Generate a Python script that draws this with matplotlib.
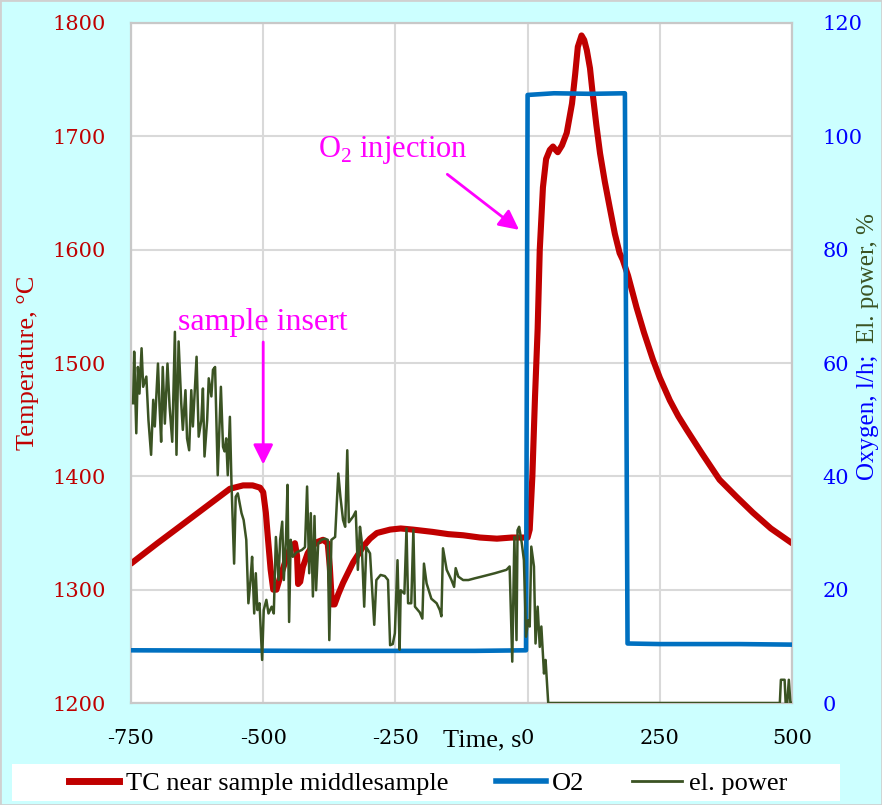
import numpy as np
import matplotlib
matplotlib.use('Agg')
import matplotlib.pyplot as plt
from matplotlib.patches import Rectangle
from matplotlib.lines import Line2D
import matplotlib.transforms as mtransforms

plt.rcParams['font.family'] = ['Liberation Serif', 'DejaVu Serif']
plt.rcParams['mathtext.fontset'] = 'custom'
plt.rcParams['mathtext.rm'] = 'Liberation Serif'
plt.rcParams['axes.unicode_minus'] = False

# Temperature, TC near sample middle (left axis)
temp_t = [-750, -700, -657, -600, -563, -538, -520, -506, -500, -495, -491, -486, -481,
          -475, -468, -458, -449, -440, -436, -434, -430, -425, -416, -408, -398, -387,
          -378, -374, -370, -365, -358, -349, -330, -311, -298, -285, -260, -240, -217,
          -180, -150, -122, -90, -58, -30, -9, 0, 4, 9, 14, 19, 23, 29, 35, 42, 48, 53,
          57, 65, 74, 84, 90, 95, 102, 107, 112, 118, 123, 130, 137, 146, 155, 165, 174,
          180, 190, 206, 220, 237, 250, 269, 285, 301, 330, 363, 395, 426, 460, 500]
temp_v = [1323, 1341, 1356, 1376, 1389, 1392, 1392, 1390, 1386, 1368, 1345, 1318, 1300,
          1300, 1311, 1325, 1337, 1341, 1330, 1305, 1307, 1320, 1332, 1338, 1342, 1344,
          1341, 1320, 1287, 1287, 1296, 1306, 1324, 1338, 1345, 1350, 1353, 1354, 1353,
          1351, 1349, 1348, 1346, 1345, 1346, 1346, 1346, 1353, 1400, 1470, 1530, 1600,
          1655, 1680, 1688, 1691, 1688, 1686, 1692, 1703, 1729, 1755, 1779, 1789, 1785,
          1776, 1760, 1738, 1710, 1685, 1660, 1638, 1614, 1597, 1591, 1577, 1549, 1527,
          1503, 1487, 1467, 1453, 1441, 1420, 1397, 1382, 1368, 1354, 1341]

# Oxygen flow, l/h (right axis)
o2_t = [-750, -400, -100, -3, 0, 50, 120, 184, 189, 250, 400, 500]
o2_v = [9.3, 9.2, 9.2, 9.3, 107.3, 107.6, 107.5, 107.6, 10.5, 10.4, 10.4, 10.3]

# Electrical power, % (right axis)
pw_t = [-746, -744, -740, -737, -734, -730, -727, -721, -717, -712, -708, -705, -699,
        -696, -693, -690, -686, -681, -677, -672, -667, -664, -660, -655, -652, -647,
        -644, -640, -636, -633, -626, -622, -617, -614, -611, -606, -603, -598, -595,
        -591, -586, -580, -576, -573, -570, -567, -563, -560, -555, -552, -548, -541,
        -537, -532, -528, -524, -521, -517, -514, -511, -507, -502, -499, -494, -490,
        -484, -480, -476, -471, -468, -464, -461, -457, -454, -451, -448, -444, -437,
        -427, -421, -417, -413, -410, -406, -403, -400, -396, -390, -383, -378, -375,
        -371, -364, -358, -354, -349, -345, -341, -338, -330, -325, -321, -317, -314,
        -309, -305, -298, -290, -286, -278, -270, -264, -260, -255, -251, -246, -242,
        -240, -233, -229, -226, -220, -216, -213, -204, -199, -196, -191, -182, -172,
        -166, -163, -160, -153, -144, -139, -136, -131, -122, -112, -100, -87, -62,
        -40, -34, -29, -25, -21, -19, -16, -11, -7, -3, 1, 4, 7, 12, 15, 19, 23, 26,
        31, 34, 39, 477, 479, 481, 486, 488, 491, 494, 497, 500]
pw_v = [52.9, 62.0, 47.6, 59.3, 54.6, 62.6, 55.8, 57.6, 49.9, 43.8, 53.5, 48.8, 59.9,
        52.3, 46.1, 59.3, 49.3, 59.9, 52.3, 46.1, 65.5, 43.8, 63.8, 52.9, 48.2, 55.2,
        46.7, 44.6, 55.2, 48.8, 61.1, 47.0, 49.9, 55.5, 43.5, 49.9, 57.3, 54.1, 58.8,
        59.3, 40.2, 55.8, 45.2, 44.4, 46.7, 40.2, 50.5, 38.8, 24.6, 36.4, 37.0, 33.5,
        32.3, 28.8, 17.6, 21.7, 25.8, 15.8, 22.9, 16.4, 17.6, 7.6, 16.4, 18.2, 15.8,
        17.0, 15.8, 29.3, 21.7, 28.8, 32.0, 21.7, 28.8, 38.5, 14.3, 28.8, 25.8, 26.6,
        27.0, 27.5, 38.2, 22.9, 33.5, 18.8, 33.0, 19.9, 28.2, 28.8, 29.0, 28.8, 11.1,
        28.8, 29.3, 40.5, 36.4, 32.3, 31.1, 44.6, 31.9, 32.9, 33.8, 23.5, 31.1, 28.8,
        17.0, 27.5, 26.4, 13.8, 21.7, 22.6, 22.4, 21.7, 10.2, 10.4, 12.3, 25.2, 9.4,
        19.9, 19.3, 30.8, 17.6, 17.6, 30.6, 17.0, 16.0, 14.9, 24.6, 21.1, 18.4, 17.6,
        16.4, 15.3, 27.3, 23.5, 21.7, 20.5, 23.8, 22.3, 21.7, 21.7, 22.0, 22.3, 22.9,
        23.5, 24.1, 7.3, 29.3, 11.1, 30.5, 31.1, 28.2, 25.2, 11.7, 14.6, 13.5, 27.6,
        24.1, 10.5, 17.0, 9.9, 13.5, 5.2, 7.6, 0.0, 0.0, 4.1, 4.1, 4.1, 0.0, 0.0, 4.1,
        0.0, 0.0]

red = '#C00000'
blue = '#0070C0'
green = '#3B5323'
magenta = '#FF00FF'

fig = plt.figure(figsize=(8.82, 8.05), dpi=100, facecolor='#CCFFFF')
fig.patches.append(Rectangle((0, 0), 1, 1, transform=fig.transFigure, fill=False,
                             edgecolor='#D0D0D0', lw=2))
ax1 = fig.add_axes([131/882, 1 - 703/805, 661/882, 680/805])
ax1.set_facecolor('white')
ax2 = ax1.twinx()

ax1.plot(temp_t, temp_v, color=red, lw=4.4, solid_capstyle='round',
         solid_joinstyle='round', zorder=3)
ax2.plot(o2_t, o2_v, color=blue, lw=3.3, zorder=3)
ax2.plot(pw_t, pw_v, color=green, lw=1.8, zorder=4)

ax1.set_xlim(-750, 500)
ax1.set_ylim(1200, 1800)
ax2.set_ylim(0, 120)
ax1.set_xticks([-750, -500, -250, 0, 250, 500])
ax1.set_yticks(np.arange(1200, 1801, 100))
ax2.set_yticks(np.arange(0, 121, 20))
ax1.grid(True, color='#D9D9D9', lw=1.5)
ax1.set_axisbelow(True)

for ax in (ax1, ax2):
    for sp in ax.spines.values():
        sp.set_color('#C8C8C8')
        sp.set_linewidth(1.5)
ax1.tick_params(axis='y', length=0, pad=18, labelsize=15, labelcolor=red)
ax1.tick_params(axis='x', length=0, pad=19, labelsize=15, labelcolor='black')
ax2.tick_params(axis='y', length=0, pad=22, labelsize=15, labelcolor='#0000FF')
for lab in ax1.get_xticklabels() + ax1.get_yticklabels() + ax2.get_yticklabels():
    lab.set_family('DejaVu Serif')

ax1.set_ylabel('Temperature, °C', color=red, fontsize=19, labelpad=10)
trans = mtransforms.blended_transform_factory(ax1.transData, ax1.transAxes)
ax1.text(-12, -0.055, 'Time, s', transform=trans, ha='right', va='center', fontsize=19)

# right axis title in two colours
t1 = fig.text(868/882, 1 - 480/805, 'Oxygen, l/h;', rotation=90, color='#0000FF',
              fontsize=18, ha='center', va='bottom')
fig.canvas.draw()
bb = t1.get_window_extent()
fig.text(868/882, (bb.y1 + 12) / fig.bbox.height, 'El. power, %', rotation=90,
         color=green, fontsize=18, ha='center', va='bottom')

# annotations
ax1.text(-500, 1536, 'sample insert', color=magenta, fontsize=23, ha='center', va='center')
ax1.annotate('', xy=(-500, 1408), xytext=(-500, 1521),
             arrowprops=dict(arrowstyle='-|>', color=magenta, lw=2, mutation_scale=30))
ax1.text(-255, 1688, 'O$_2$ injection', color=magenta, fontsize=22, ha='center', va='center')
ax1.annotate('', xy=(-12, 1616), xytext=(-156, 1668),
             arrowprops=dict(arrowstyle='-|>', color=magenta, lw=2, mutation_scale=30))

# legend in white box at the bottom
fig.patches.append(Rectangle((12/882, 1 - 801/805), 828/882, 37/805,
                             transform=fig.transFigure, facecolor='white', edgecolor='none'))
handles = [Line2D([], [], color=red, lw=5),
           Line2D([], [], color=blue, lw=4),
           Line2D([], [], color=green, lw=2)]
fig.legend(handles, ['TC near sample middlesample', 'O2', 'el. power'], loc='center',
           bbox_to_anchor=(428/882, 1 - 783/805), ncol=3, frameon=False, fontsize=19,
           handlelength=1.9, handletextpad=0.25, columnspacing=1.8)

plt.savefig('out.png', dpi=100, facecolor=fig.get_facecolor())
